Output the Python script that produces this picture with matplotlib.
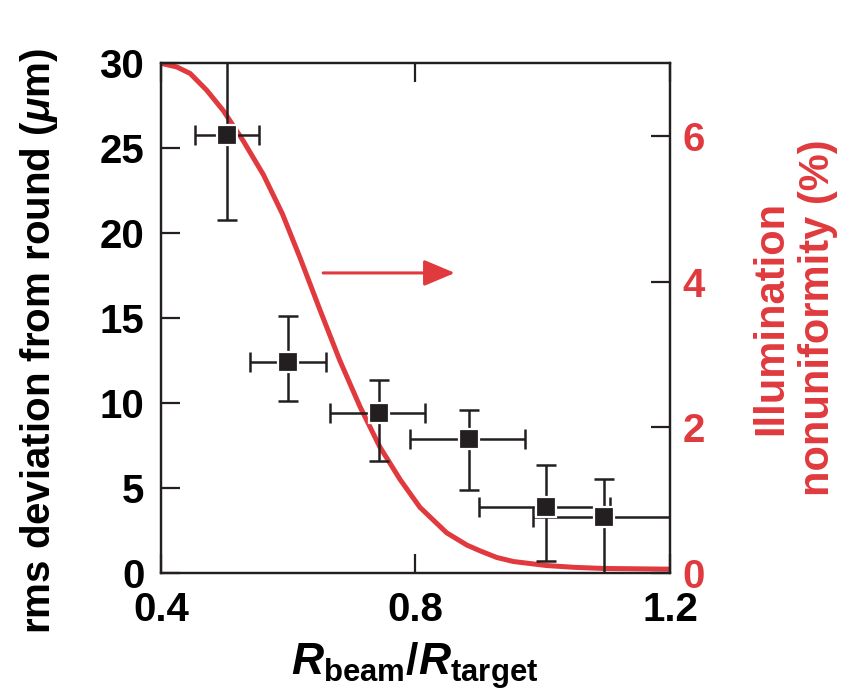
import matplotlib
matplotlib.use('Agg')
from matplotlib import pyplot as plt

plt.rcParams['font.family'] = ['Liberation Sans', 'DejaVu Sans']
plt.rcParams['font.weight'] = 'bold'
plt.rcParams['mathtext.fontset'] = 'custom'
plt.rcParams['mathtext.rm'] = 'Liberation Sans:bold'
plt.rcParams['mathtext.it'] = 'Liberation Sans:italic:bold'
plt.rcParams['mathtext.bf'] = 'Liberation Sans:bold'

RED = '#e03a3e'
DARK = '#231f20'

# measured points (left axis)
ratio = [0.504, 0.600, 0.743, 0.884, 1.005, 1.096]
rms = [25.8, 12.4, 9.4, 7.9, 3.9, 3.3]
rms_err_lo = [5.0, 2.3, 2.8, 3.0, 3.2, 3.3]
rms_err_hi = [5.0, 2.7, 1.95, 1.7, 2.45, 2.2]
ratio_err_lo = [0.05, 0.06, 0.078, 0.093, 0.105, 0.112]
ratio_err_hi = [0.05, 0.06, 0.072, 0.088, 0.1, 0.11]

# calculated nonuniformity (right axis)
curve_x = [0.400, 0.425, 0.446, 0.472, 0.498, 0.529, 0.561, 0.591, 0.619, 0.650,
           0.681, 0.713, 0.744, 0.776, 0.807, 0.849, 0.881, 0.902, 0.928, 0.954,
           1.006, 1.050, 1.095, 1.200]
curve_y = [7.00, 6.95, 6.86, 6.63, 6.35, 5.94, 5.47, 4.93, 4.32, 3.61,
           2.92, 2.28, 1.73, 1.28, 0.90, 0.55, 0.38, 0.30, 0.21, 0.155,
           0.10, 0.075, 0.06, 0.05]

fig = plt.figure(figsize=(8.47, 6.96), dpi=100)
ax = fig.add_axes([0.190, 0.177, 0.601, 0.732])
ax2 = ax.twinx()

ax2.plot(curve_x, curve_y, color=RED, lw=3.6, zorder=1, solid_joinstyle='round')
ax2.annotate('', xy=(0.862, 4.12), xytext=(0.655, 4.12),
             arrowprops=dict(arrowstyle='-|>,head_length=1.9,head_width=0.8',
                             color=RED, lw=2.2, shrinkA=0, shrinkB=0))
ax2.set_ylim(0, 7)
ax2.set_yticks([0, 2, 4, 6])

ax.set_zorder(ax2.get_zorder() + 1)
ax.patch.set_visible(False)
ax.errorbar(ratio, rms, yerr=[rms_err_lo, rms_err_hi], xerr=[ratio_err_lo, ratio_err_hi],
            fmt='none', ecolor=DARK, elinewidth=1.8, capsize=7, capthick=1.8, zorder=2)
ax.plot(ratio, rms, 's', color=DARK, ms=14.5, mec='white', mew=1.6, zorder=3)

ax.set_xlim(0.4, 1.2)
ax.set_ylim(0, 30)
ax.set_xticks([0.4, 0.8, 1.2])
ax.set_xticklabels(['0.4', '0.8', '1.2'])
ax.set_yticks([0, 5, 10, 15, 20, 25, 30])

for a in (ax, ax2):
    for s in a.spines.values():
        s.set_linewidth(1.6)
        s.set_color(DARK)
ax.tick_params(axis='both', direction='in', length=14, width=1.6, color=DARK,
               labelsize=29, top=True)
ax.tick_params(axis='y', pad=12)
ax.tick_params(axis='x', pad=13)
ax2.tick_params(axis='y', direction='in', length=14, width=1.6, color=DARK,
                labelsize=29, labelcolor=RED, pad=9)

ax.set_ylabel(r'rms deviation from round ($\mu$m)', fontsize=29, fontweight='bold', va='center')
ax.yaxis.set_label_coords(-0.240, 0.455)
ax.set_xlabel(r'$R_{\mathrm{beam}}/R_{\mathrm{target}}$', fontsize=32, va='top')
ax.xaxis.set_label_coords(0.499, -0.132)
ax2.set_ylabel('Illumination\nnonuniformity (%)', fontsize=30, fontweight='bold', color=RED,
               va='center', linespacing=1.2)
ax2.yaxis.set_label_coords(1.245, 0.50)

fig.savefig('out.png', dpi=100)
